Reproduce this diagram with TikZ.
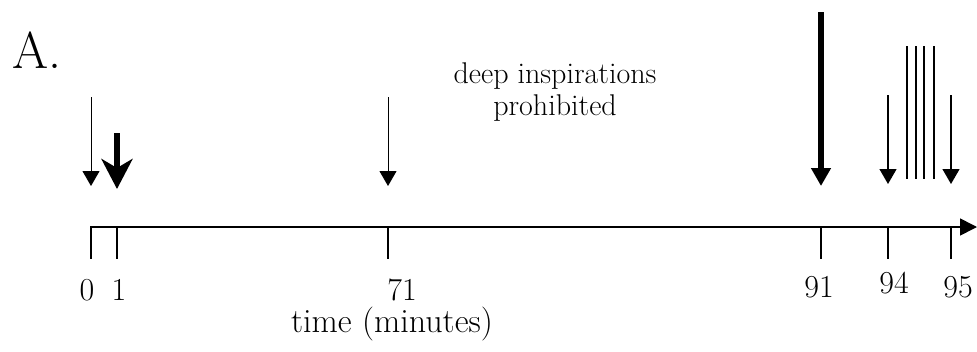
\documentclass[tikz,border=0pt]{standalone}
\usetikzlibrary{arrows.meta}
\begin{document}
\begin{tikzpicture}[x=1pt,y=-1pt,
  lbl/.style={font=\fontsize{30}{32}\selectfont, inner sep=0pt, anchor=base},
  num/.style={font=\fontsize{32}{34}\selectfont, inner sep=0pt, anchor=base},
  thinarrow/.style={line width=1pt, -{Triangle[length=15pt,width=17pt]}},
  boldarrow/.style={line width=6pt, -{Triangle[length=18pt,width=19pt]}},
  stealtharrow/.style={line width=6pt, -{Stealth[length=30pt,width=31pt,inset=9pt]}},
  tick/.style={line width=1.5pt},
  bar/.style={line width=1.3pt}]
\useasboundingbox (0,0) rectangle (977,351);
% axis
\coordinate (ax0) at (90,227);
\coordinate (axend) at (977,227);
\draw[line width=1.6pt, -{Triangle[length=17pt,width=17pt]}] (ax0) -- (axend);
% tick coordinates
\foreach \n/\x in {t0/91, t1/117, t71/388, t91/821, t94/888, t95/951}{
  \coordinate (\n) at (\x,227);
  \coordinate (\n b) at (\x,259);
  \draw[tick] (\n) -- (\n b);
}
% tick labels
\node[num] (l0) at (87,300) {0};
\node[num] (l1) at (119,300) {1};
\node[num] (l71) at (402,300) {71};
\node[num] (l91) at (819,297) {91};
\node[num] (l94) at (894,293) {94};
\node[num] (l95) at (958,297) {95};
\node[font=\fontsize{34}{38}\selectfont, inner sep=0pt, anchor=base west] (tlab) at (291,332) {time (minutes)};
% title
\node[font=\fontsize{52}{60}\selectfont, inner sep=0pt, anchor=base west] (title) at (12,68) {A.};
% annotation
\node[lbl, align=center, anchor=base] (deep) at (555,115) {deep inspirations\\prohibited};
% arrows
\coordinate (a0s) at (91,97);   \coordinate (a0e) at (91,186);
\coordinate (a1s) at (117,133); \coordinate (a1e) at (117,189);
\coordinate (a71s) at (388,97); \coordinate (a71e) at (388,186);
\coordinate (a91s) at (821,12); \coordinate (a91e) at (821,186);
\coordinate (a94s) at (888,95); \coordinate (a94e) at (888,184);
\coordinate (a95s) at (951,95); \coordinate (a95e) at (951,184);
\draw[thinarrow] (a0s) -- (a0e);
\draw[stealtharrow] (a1s) -- (a1e);
\draw[thinarrow] (a71s) -- (a71e);
\draw[boldarrow] (a91s) -- (a91e);
\draw[thinarrow, line width=1.3pt] (a94s) -- (a94e);
\draw[thinarrow, line width=1.3pt] (a95s) -- (a95e);
% bars
\foreach \x in {907,916,924,934}{
  \coordinate (bt\x) at (\x,46);
  \coordinate (bb\x) at (\x,179);
  \draw[bar] (bt\x) -- (bb\x);
}
\end{tikzpicture}
\end{document}
